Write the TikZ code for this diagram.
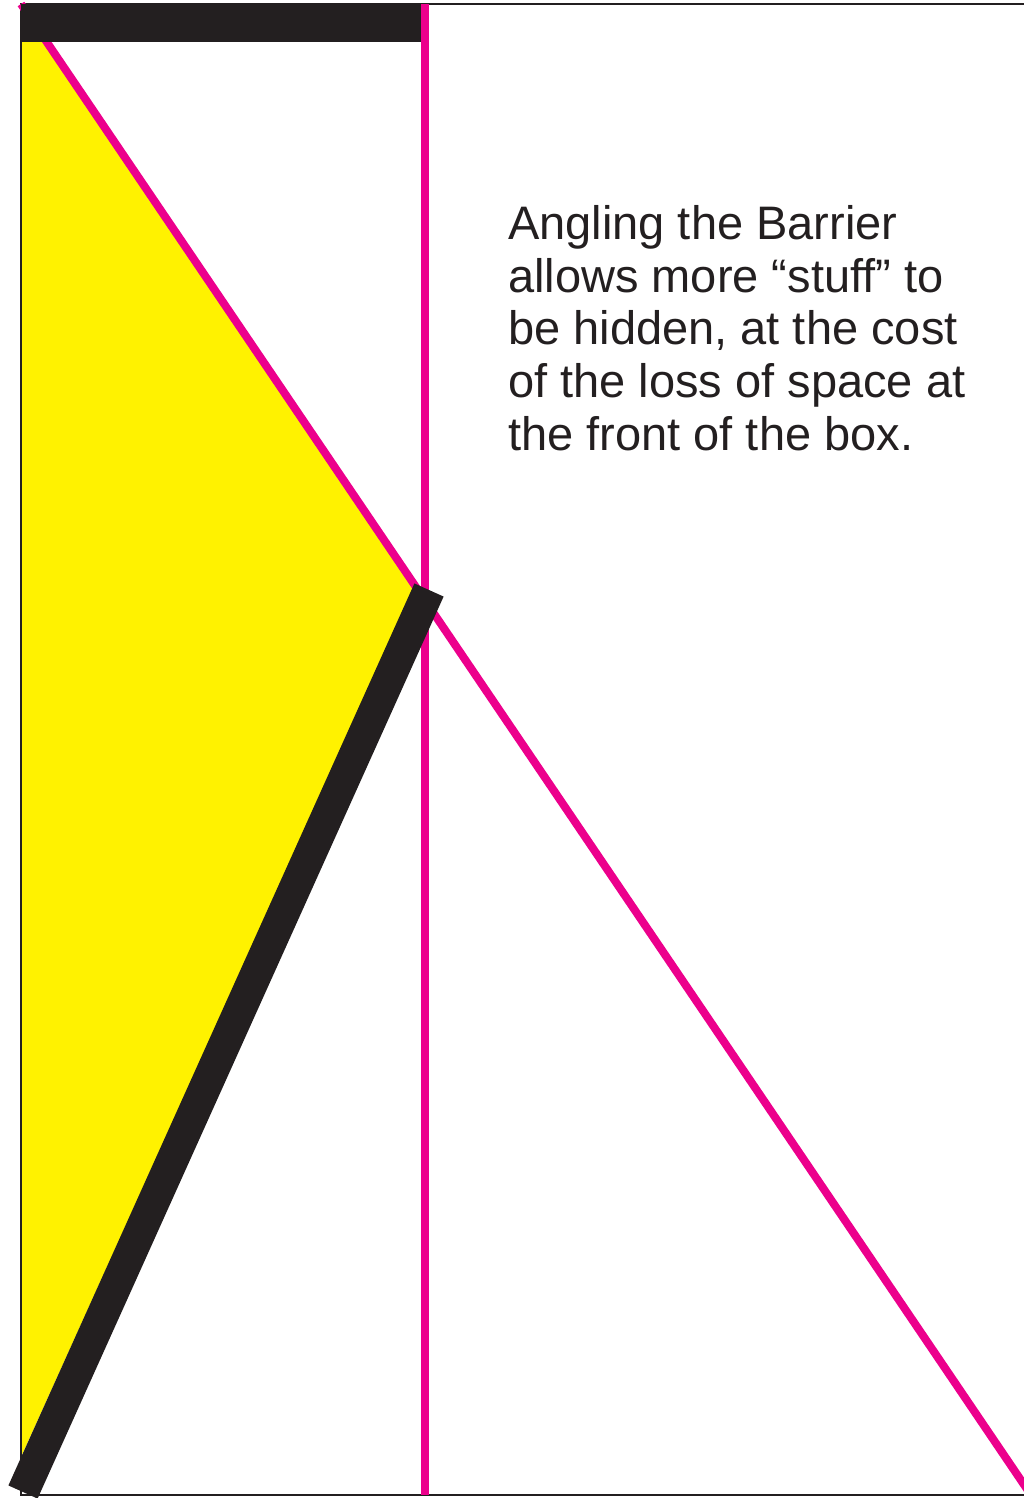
\documentclass[tikz,border=0pt]{standalone}
\usepackage{fontspec}
\setmainfont{Liberation Sans}
\usetikzlibrary{calc}
\definecolor{mag}{RGB}{236,0,140}
\definecolor{blk}{RGB}{35,31,32}
\definecolor{yel}{RGB}{255,242,0}
\begin{document}
\begin{tikzpicture}[x=1pt,y=-1pt,
  frame/.style={draw=blk,line width=1.5pt},
  magline/.style={draw=mag,line width=8pt},
  barrier/.style={draw=blk,line width=32pt},
  label/.style={font=\fontsize{47}{52.6}\selectfont,text=blk,align=left,inner sep=0pt,anchor=base west}]
\useasboundingbox (0,0) rectangle (1023,1498);
% key points
\coordinate (TL) at (21,4);
\coordinate (TR) at (1030,4);
\coordinate (BL) at (21,1495);
\coordinate (BR) at (1030,1495);
\coordinate (DiagEnd) at (1031,1495);
\coordinate (BarTop) at (429,590);
\coordinate (BarBot) at (23,1492);
% yellow hidden region
\fill[yel] (21,42) -- (48,42) -- (415.5,585) -- (21,1457) -- cycle;
% frame
\draw[frame] (TR) -- (TL) -- (BL) -- (BR);
% magenta diagonal
\draw[magline] (TL) -- (DiagEnd);
% top bar
\fill[blk] (21,4) rectangle (421,42);
% magenta vertical
\draw[magline] (425,4) -- (425,1495);
% angled barrier
\draw[barrier] (BarTop) -- (BarBot);
% text (anchor at baseline of the last line)
\node[label] (txt) at (508,450) {Angling the Barrier\\allows more “stuff” to\\be hidden, at the cost\\of the loss of space at\\the front of the box.};
\end{tikzpicture}
\end{document}
